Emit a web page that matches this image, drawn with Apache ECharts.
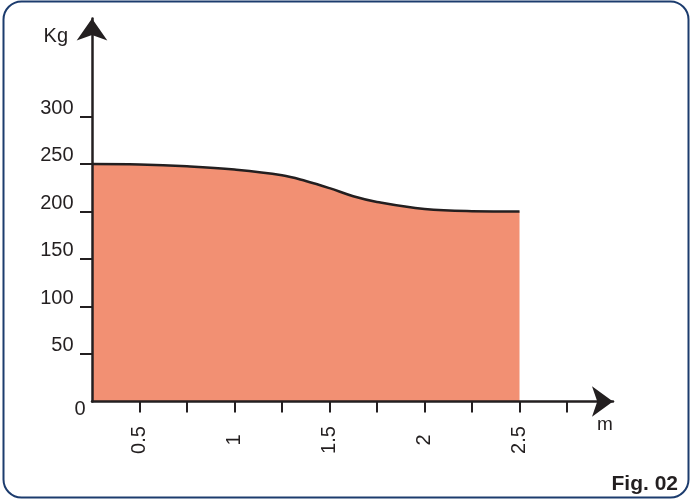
<!DOCTYPE html>
<html>
<head>
<meta charset="utf-8">
<script src="https://cdn.jsdelivr.net/npm/echarts@6/dist/echarts.min.js"></script>
<style>
html,body{margin:0;padding:0;background:#fff;}
#chart{width:691px;height:502px;}
</style>
</head>
<body>
<div id="chart"></div>
<script>
// Data (x in m, y in Kg)
var xValues = [0.25, 0.5, 0.75, 1.0, 1.25, 1.375, 1.5, 1.625, 1.75, 2.0, 2.25, 2.5];
var yValues = [250, 249.5, 247.5, 244, 238, 232, 224.5, 216, 210, 202.5, 200.3, 200];
var xTickValues = [0.5, 0.75, 1, 1.25, 1.5, 1.75, 2, 2.25, 2.5, 2.75];
var xLabelValues = [0.5, 1, 1.5, 2, 2.5];
var yTickValues = [50, 100, 150, 200, 250, 300];
var yLabelValues = [50, 100, 150, 200, 250, 300];

var ink = '#231f20';
var font = "'Liberation Sans', Arial, sans-serif";

var seriesData = xValues.map(function (x, i) { return [x, yValues[i]]; });

var chart = echarts.init(document.getElementById('chart'), null, {renderer: 'canvas'});
chart.setOption({
  animation: false,
  backgroundColor: '#ffffff',
  grid: {left: 92, right: 78, top: 18.5, bottom: 100.5, containLabel: false, outerBoundsMode: 'none'},
  xAxis: {
    type: 'value',
    min: 0.25,
    max: 2.992,
    z: 5,
    name: 'm',
    nameLocation: 'end',
    nameGap: -8,
    nameTextStyle: {fontFamily: font, fontSize: 19, color: ink, align: 'center', verticalAlign: 'top', padding: [14, 0, 0, 0]},
    splitLine: {show: false},
    axisLine: {lineStyle: {color: ink, width: 2.5}, symbol: ['none', 'arrow'], symbolSize: [23, 21]},
    axisTick: {show: true, length: 11, lineStyle: {color: ink, width: 2}, customValues: xTickValues},
    axisLabel: {
      customValues: xLabelValues,
      rotate: 90,
      align: 'center',
      verticalAlign: 'middle',
      margin: 38.5,
      fontFamily: font, fontSize: 20, color: ink,
      formatter: function (v) { return String(v); }
    }
  },
  yAxis: {
    type: 'value',
    min: 0,
    max: 403,
    z: 5,
    name: 'Kg',
    nameLocation: 'end',
    nameGap: -17.5,
    nameTextStyle: {fontFamily: font, fontSize: 20, color: ink, align: 'right', verticalAlign: 'middle', padding: [0, 24, 0, 0]},
    splitLine: {show: false},
    axisLine: {lineStyle: {color: ink, width: 2.5}, symbol: ['none', 'arrow'], symbolSize: [23, 22]},
    axisTick: {show: true, length: 12, lineStyle: {color: ink, width: 2}, customValues: yTickValues},
    axisLabel: {
      customValues: yLabelValues,
      margin: 18.5,
      verticalAlign: 'bottom',
      lineHeight: 16,
      fontFamily: font, fontSize: 20, color: ink
    }
  },
  series: [{
    type: 'line',
    z: 1,
    data: seriesData,
    smooth: 0.4,
    showSymbol: false,
    lineStyle: {color: ink, width: 2.5},
    areaStyle: {color: '#f29073', opacity: 1}
  }],
  graphic: [
    {type: 'rect', z: 100, silent: true,
     shape: {x: 3.5, y: 1.5, width: 685, height: 496, r: 18},
     style: {fill: 'none', stroke: '#1c3c6e', lineWidth: 2}},
    {type: 'text', z: 100, x: 80, y: 409,
     style: {text: '0', fontFamily: font, fontSize: 20, fill: ink, textAlign: 'center', textVerticalAlign: 'middle'}},
    {type: 'text', z: 100, x: 678, y: 484,
     style: {text: 'Fig. 02', fontFamily: font, fontSize: 21, fontWeight: 'bold', fill: ink, textAlign: 'right', textVerticalAlign: 'middle'}}
  ]
});
</script>
</body>
</html>
